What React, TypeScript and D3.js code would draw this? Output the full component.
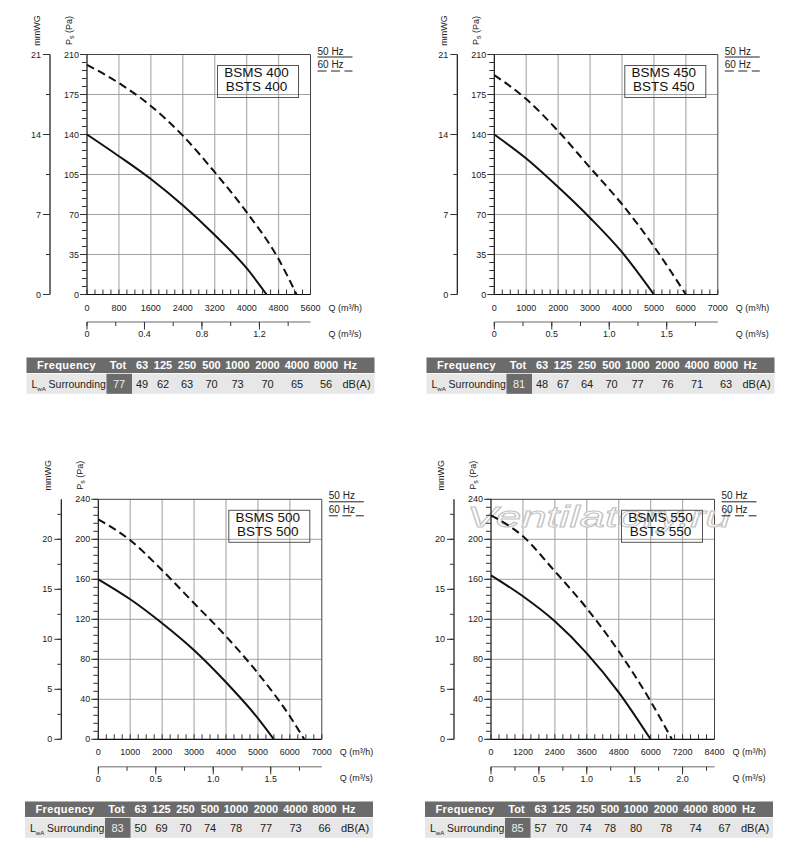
import React from "react";
import * as d3 from "d3";

// fan models, one panel each
const models = ["400", "450", "500", "550"];

// axis ranges per model
const qMaxH = [5600, 7000, 7000, 8400]; // m3/h
const qStepH = [800, 1000, 1000, 1200];
const qStepS = [0.4, 0.5, 0.5, 0.5]; // m3/s
const psMax = [210, 210, 240, 240]; // Pa
const psStep = [35, 35, 40, 40];
const wgStep = [7, 7, 5, 5]; // mmWG

// fan curves (Q m3/h, Ps Pa)
const q400at50 = [0, 800, 1600, 2400, 3200, 4000, 4500];
const ps400at50 = [140, 121, 101, 78, 52, 23, 0];
const q400at60 = [0, 800, 1600, 2400, 3200, 4000, 4800, 5250];
const ps400at60 = [201, 185, 165, 139, 107, 72, 31, 0];

const q450at50 = [0, 1000, 2000, 3000, 4000, 5000];
const ps450at50 = [140, 119, 94, 67, 37, 0];
const q450at60 = [0, 1000, 2000, 3000, 4000, 5000, 6000];
const ps450at60 = [192, 171, 143, 111, 79, 42, 0];

const q500at50 = [0, 1000, 2000, 3000, 4000, 5000, 5500];
const ps500at50 = [160, 140, 116, 89, 57, 21, 0];
const q500at60 = [0, 1000, 2000, 3000, 4000, 5000, 6000, 6450];
const ps500at60 = [220, 199, 169, 136, 103, 66, 23, 0];

const q550at50 = [0, 1200, 2400, 3600, 4800, 6000];
const ps550at50 = [164, 143, 118, 86, 47, 0];
const q550at60 = [0, 1200, 2400, 3600, 4800, 6000, 6800];
const ps550at60 = [224, 203, 168, 131, 88, 38, 0];

// sound power table
const bands = ["63", "125", "250", "500", "1000", "2000", "4000", "8000"];
const lwaTot = [77, 81, 83, 85];
const lwa400 = [49, 62, 63, 70, 73, 70, 65, 56];
const lwa450 = [48, 67, 64, 70, 77, 76, 71, 63];
const lwa500 = [50, 69, 70, 74, 78, 77, 73, 66];
const lwa550 = [57, 70, 74, 78, 80, 78, 74, 67];

const curves50 = [
  [q400at50, ps400at50],
  [q450at50, ps450at50],
  [q500at50, ps500at50],
  [q550at50, ps550at50],
];
const curves60 = [
  [q400at60, ps400at60],
  [q450at60, ps450at60],
  [q500at60, ps500at60],
  [q550at60, ps550at60],
];
const lwaBands = [lwa400, lwa450, lwa500, lwa550];

// layout (not data)
const plotLeft = [87, 494.3, 98.3, 491];
const plotTop = [54.5, 54.5, 499.3, 499.3];
const tableLeft = [26.5, 426.5, 25, 425];
const tableTop = [357.5, 357.5, 801.5, 801.5];
const W = 223.5;
const H = 240;
const FONT = "'Liberation Sans', Arial, Helvetica, sans-serif";
const bandX = [115.5, 136.5, 160.5, 185, 211, 241, 270.5, 299.5];

const fmtS = (v: number) => (v === 0 ? "0" : d3.format(".1f")(v));

function Panel({ i }: { i: number }) {
  const L = plotLeft[i];
  const T = plotTop[i];
  const R = L + W;
  const B = T + H;

  const x = d3.scaleLinear().domain([0, qMaxH[i]]).range([L, R]);
  const xs = d3.scaleLinear().domain([0, qMaxH[i] / 3600]).range([L, R]);
  const y = d3.scaleLinear().domain([0, psMax[i]]).range([B, T]);
  const yw = d3.scaleLinear().domain([0, psMax[i] / 10]).range([B, T]);

  const majX = d3.range(0, qMaxH[i] + 1, qStepH[i]);
  const minX = d3.range(0, qMaxH[i] + 1, qStepH[i] / 4);
  const sMax = qMaxH[i] / 3600;
  const majS = d3.range(0, sMax + 1e-6, qStepS[i]);
  const minS = d3.range(0, sMax + 1e-6, qStepS[i] / 2);
  const majY = d3.range(0, psMax[i] + 1, psStep[i]);
  const minY = d3.range(0, psMax[i] + 1, psStep[i] / 5);
  const wMax = psMax[i] / 10;
  const majW = d3.range(0, wMax + 1e-6, wgStep[i]);
  const minW = d3.range(0, wMax + 1e-6, wgStep[i] / 2);

  const line = d3
    .line<[number, number]>()
    .x((d) => x(d[0]))
    .y((d) => y(d[1]))
    .curve(d3.curveMonotoneX);
  const pts = (c: number[][]) => c[0].map((q, k) => [q, c[1][k]] as [number, number]);

  const wx = L - 37;
  const boxR = R - 12;
  const boxL = boxR - 81;

  return (
    <g fontFamily={FONT} fill="#222">
      {/* grid */}
      {majX.slice(1, -1).map((v) => (
        <line key={"gx" + v} x1={x(v)} x2={x(v)} y1={T} y2={B} stroke="#b4b4b4" strokeWidth={1.3} />
      ))}
      {majY.slice(1, -1).map((v) => (
        <line key={"gy" + v} x1={L} x2={R} y1={y(v)} y2={y(v)} stroke="#a0a0a0" strokeWidth={1} />
      ))}
      <line x1={L} x2={R} y1={T} y2={T} stroke="#444" strokeWidth={1} />
      <line x1={R} x2={R} y1={T} y2={B} stroke="#444" strokeWidth={1} />

      {i === 3 && (
        <text
          x={467}
          y={527}
          fontSize={30}
          fontStyle="italic"
          textLength={264}
          lengthAdjust="spacingAndGlyphs"
          fill="#fff"
          stroke="#c4c4c4"
          strokeWidth={1}
        >
          Ventilatory.ru
        </text>
      )}

      {/* curves */}
      <path d={line(pts(curves50[i])) || ""} fill="none" stroke="#111" strokeWidth={2} />
      <path
        d={line(pts(curves60[i])) || ""}
        fill="none"
        stroke="#111"
        strokeWidth={2}
        strokeDasharray="8,4.5"
      />

      {/* model box */}
      <rect x={boxL} y={T + 11} width={81} height={32} fill="none" stroke="#555" strokeWidth={1} />
      <text x={(boxL + boxR) / 2 - 1.5} y={T + 22.5} fontSize={13.5} textAnchor="middle" fill="#111">
        {"BSMS " + models[i]}
      </text>
      <text x={(boxL + boxR) / 2 - 1.5} y={T + 36.5} fontSize={13.5} textAnchor="middle" fill="#111">
        {"BSTS " + models[i]}
      </text>

      {/* Ps axis */}
      <line x1={L} x2={L} y1={T} y2={B} stroke="#111" strokeWidth={1.2} />
      {minY.map((v) => (
        <line key={"my" + v} x1={L - 5} x2={L} y1={y(v)} y2={y(v)} stroke="#333" strokeWidth={1} />
      ))}
      {majY.map((v) => (
        <g key={"ly" + v}>
          <line x1={L - 7} x2={L} y1={y(v)} y2={y(v)} stroke="#333" strokeWidth={1} />
          <text x={L - 8} y={y(v) + 3} fontSize={9} textAnchor="end">
            {v}
          </text>
        </g>
      ))}
      <text transform={`translate(${L - 15},${T - 24}) rotate(-90)`} fontSize={9} textAnchor="middle">
        P<tspan fontSize={7} dy={1.5}>s</tspan>
        <tspan dy={-1.5}> (Pa)</tspan>
      </text>

      {/* mmWG axis */}
      <line x1={wx} x2={wx} y1={T} y2={B} stroke="#111" strokeWidth={1.2} />
      {minW.map((v) => (
        <line key={"mw" + v} x1={wx - 4} x2={wx} y1={yw(v)} y2={yw(v)} stroke="#333" strokeWidth={1} />
      ))}
      {majW.map((v) => (
        <g key={"lw" + v}>
          <line x1={wx - 7} x2={wx} y1={yw(v)} y2={yw(v)} stroke="#333" strokeWidth={1} />
          <text x={wx - 9} y={yw(v) + 3} fontSize={9} textAnchor="end">
            {v}
          </text>
        </g>
      ))}
      <text transform={`translate(${L - 47.5},${T - 24}) rotate(-90)`} fontSize={9} textAnchor="middle">
        mmWG
      </text>

      {/* Q m3/h axis */}
      <line x1={L} x2={R} y1={B} y2={B} stroke="#111" strokeWidth={1.2} />
      {minX.map((v) => (
        <line key={"mx" + v} x1={x(v)} x2={x(v)} y1={B - 5} y2={B} stroke="#333" strokeWidth={1} />
      ))}
      {majX.map((v) => (
        <text key={"lx" + v} x={x(v)} y={B + 16} fontSize={9} textAnchor="middle">
          {v}
        </text>
      ))}
      <text x={R + 18} y={B + 16} fontSize={9}>
        Q (m³/h)
      </text>

      {/* Q m3/s axis */}
      <line x1={L} x2={R} y1={B + 27.5} y2={B + 27.5} stroke="#9a9a9a" strokeWidth={1.5} />
      {minS.map((v) => (
        <line key={"ms" + v} x1={xs(v)} x2={xs(v)} y1={B + 27.5} y2={B + 31.5} stroke="#333" strokeWidth={1} />
      ))}
      {majS.map((v) => (
        <g key={"ls" + v}>
          <line x1={xs(v)} x2={xs(v)} y1={B + 27.5} y2={B + 35} stroke="#333" strokeWidth={1} />
          <text x={xs(v)} y={B + 42.5} fontSize={9} textAnchor="middle">
            {fmtS(v)}
          </text>
        </g>
      ))}
      <text x={R + 18} y={B + 42} fontSize={9}>
        Q (m³/s)
      </text>

      {/* legend */}
      <text x={R + 7} y={T + 0} fontSize={10}>
        50 Hz
      </text>
      <line x1={R + 7} x2={R + 42} y1={T + 2.5} y2={T + 2.5} stroke="#222" strokeWidth={1} />
      <text x={R + 7} y={T + 13.5} fontSize={10}>
        60 Hz
      </text>
      <line
        x1={R + 7}
        x2={R + 42}
        y1={T + 16.5}
        y2={T + 16.5}
        stroke="#222"
        strokeWidth={1}
        strokeDasharray="9,4.5"
      />
    </g>
  );
}

function SoundTable({ i }: { i: number }) {
  const X = tableLeft[i];
  const Y = tableTop[i];
  const hh = 15.5;
  const rh = 20;
  const ry = Y + hh + 0.8;
  return (
    <g fontFamily={FONT}>
      <rect x={X} y={Y} width={348} height={hh} fill="#6b6b6b" />
      <rect x={X} y={ry} width={348} height={rh} fill="#e7e7e7" />
      <rect x={X + 80} y={ry} width={25.5} height={rh} fill="#6b6b6b" />
      <g fill="#fff" fontWeight="bold" fontSize={11}>
        <text x={X + 40} y={Y + 11.5} textAnchor="middle" letterSpacing={0.4}>
          Frequency
        </text>
        <text x={X + 91.5} y={Y + 11.5} textAnchor="middle">
          Tot
        </text>
        {bands.map((b, k) => (
          <text key={b} x={X + bandX[k]} y={Y + 11.5} textAnchor="middle">
            {b}
          </text>
        ))}
        <text x={X + 317} y={Y + 11.5}>
          Hz
        </text>
      </g>
      <g fontSize={11} fill="#222">
        <text x={X + 5} y={ry + 14} fontSize={10.5}>
          L<tspan fontSize={6} dy={3}>wA</tspan>
          <tspan dy={-3}> Surrounding</tspan>
        </text>
        <text x={X + 92.5} y={ry + 14} textAnchor="middle" fill="#eee">
          {lwaTot[i]}
        </text>
        {lwaBands[i].map((v, k) => (
          <text key={k} x={X + bandX[k]} y={ry + 14} textAnchor="middle">
            {v}
          </text>
        ))}
        <text x={X + 330} y={ry + 14} textAnchor="middle">
          dB(A)
        </text>
      </g>
    </g>
  );
}

export default function App() {
  return (
    <svg
      width={800}
      height={850}
      viewBox="0 0 800 850"
      style={{ position: "absolute", left: 0, top: 0, background: "#fff" }}
    >
      <rect width={800} height={850} fill="#fff" />
      {models.map((m, i) => (
        <g key={m}>
          <Panel i={i} />
          <SoundTable i={i} />
        </g>
      ))}
    </svg>
  );
}
